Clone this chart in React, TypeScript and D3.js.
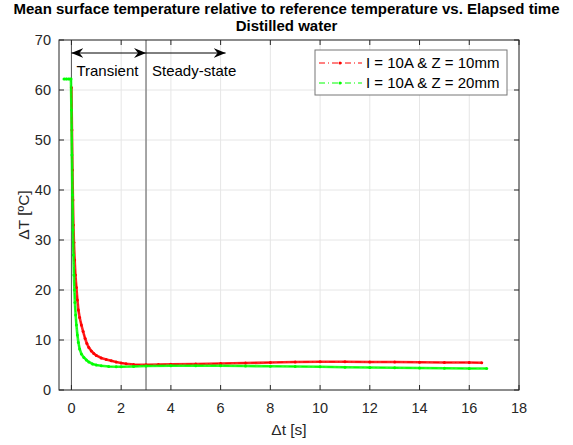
import React, { useEffect, useRef } from 'react';
import * as d3 from 'd3';

// elapsed time [s] and mean surface temperature delta [ºC]
const tRed = [0, 0.02, 0.04, 0.06, 0.08, 0.1, 0.13, 0.16, 0.2, 0.24, 0.28, 0.33, 0.4, 0.47, 0.55, 0.62, 0.7, 0.8, 0.9, 1.0, 1.2, 1.4, 1.6, 1.8, 2.0, 2.2, 2.5, 3.0, 3.5, 4.0, 5.0, 6.0, 7.0, 8.0, 9.0, 10.0, 11.0, 12.0, 13.0, 14.0, 15.0, 16.0, 16.5];
const vRed = [60.5, 52, 44, 38, 33, 29.5, 26, 23, 20.5, 18, 16, 14.5, 13, 11.7, 10.3, 9.3, 8.5, 7.8, 7.3, 6.9, 6.4, 6.1, 5.85, 5.6, 5.4, 5.25, 5.1, 5.05, 5.1, 5.15, 5.2, 5.3, 5.4, 5.5, 5.6, 5.65, 5.65, 5.6, 5.6, 5.55, 5.5, 5.5, 5.45];

const tGreen = [-0.3, -0.2, -0.1, -0.02, 0, 0.02, 0.04, 0.06, 0.08, 0.1, 0.12, 0.14, 0.17, 0.2, 0.24, 0.28, 0.33, 0.4, 0.5, 0.6, 0.7, 0.85, 1.0, 1.2, 1.5, 1.8, 2.0, 2.5, 3.0, 4.0, 5.0, 6.0, 7.0, 8.0, 9.0, 10.0, 11.0, 12.0, 13.0, 14.0, 15.0, 16.0, 16.7];
const vGreen = [62.2, 62.2, 62.2, 62.2, 56, 47, 39, 32, 27, 23, 20, 17.5, 15, 13, 11, 9.5, 8.2, 7.2, 6.5, 6.0, 5.6, 5.2, 5.0, 4.85, 4.7, 4.65, 4.65, 4.7, 4.8, 4.85, 4.85, 4.85, 4.8, 4.75, 4.7, 4.65, 4.55, 4.5, 4.45, 4.4, 4.35, 4.3, 4.3];

const seriesNames = ['I = 10A & Z = 10mm', 'I = 10A & Z = 20mm'];
const seriesColors = ['#ff0000', '#00ff00'];

const xTicks = [0, 2, 4, 6, 8, 10, 12, 14, 16, 18];
const yTicks = [0, 10, 20, 30, 40, 50, 60, 70];

export default function App() {
  const svgRef = useRef(null);

  useEffect(() => {
    const width = 573, height = 445;
    const m = { left: 59, right: 54, top: 40, bottom: 55 };
    const font = 'Liberation Sans, Arial, Helvetica, sans-serif';

    const svg = d3.select(svgRef.current);
    svg.selectAll('*').remove();
    svg.attr('width', width).attr('height', height).style('font-family', font);

    svg.append('rect').attr('width', width).attr('height', height).attr('fill', '#fff');

    const x = d3.scaleLinear().domain([-0.5, 18]).range([m.left, width - m.right]);
    const y = d3.scaleLinear().domain([0, 70]).range([height - m.bottom, m.top]);

    // grid
    const grid = svg.append('g').attr('stroke', '#e6e6e6').attr('stroke-width', 1);
    xTicks.forEach(t => grid.append('line').attr('x1', x(t)).attr('x2', x(t)).attr('y1', y(0)).attr('y2', y(70)));
    yTicks.forEach(t => grid.append('line').attr('x1', x(-0.5)).attr('x2', x(18)).attr('y1', y(t)).attr('y2', y(t)));

    // phase boundaries
    svg.append('line').attr('x1', x(0)).attr('x2', x(0)).attr('y1', y(0)).attr('y2', y(70))
      .attr('stroke', '#555').attr('stroke-width', 1);
    svg.append('line').attr('x1', x(3)).attr('x2', x(3)).attr('y1', y(0)).attr('y2', y(70))
      .attr('stroke', '#888').attr('stroke-width', 1.5);

    // series
    const line = d3.line<[number, number]>().x(d => x(d[0])).y(d => y(d[1]));
    const data = [
      d3.zip(tRed, vRed) as [number, number][],
      d3.zip(tGreen, vGreen) as [number, number][],
    ];
    data.forEach((pts, i) => {
      const g = svg.append('g');
      g.append('path').attr('d', line(pts)).attr('fill', 'none')
        .attr('stroke', seriesColors[i]).attr('stroke-width', 2.6).attr('stroke-opacity', 0.85);
      g.append('path').attr('d', line(pts)).attr('fill', 'none')
        .attr('stroke', seriesColors[i]).attr('stroke-width', 1).attr('stroke-dasharray', '6,3,1,3');
      g.selectAll('circle').data(pts).join('circle')
        .attr('cx', d => x(d[0])).attr('cy', d => y(d[1])).attr('r', 1.5).attr('fill', seriesColors[i]);
    });

    // axes box with inward ticks
    const ax = svg.append('g').attr('stroke', '#262626').attr('stroke-width', 1);
    ax.append('rect').attr('x', x(-0.5)).attr('y', y(70)).attr('width', x(18) - x(-0.5)).attr('height', y(0) - y(70))
      .attr('fill', 'none');
    xTicks.forEach(t => {
      ax.append('line').attr('x1', x(t)).attr('x2', x(t)).attr('y1', y(0)).attr('y2', y(0) - 5);
      ax.append('line').attr('x1', x(t)).attr('x2', x(t)).attr('y1', y(70)).attr('y2', y(70) + 5);
    });
    yTicks.forEach(t => {
      ax.append('line').attr('x1', x(-0.5)).attr('x2', x(-0.5) + 5).attr('y1', y(t)).attr('y2', y(t));
      ax.append('line').attr('x1', x(18)).attr('x2', x(18) - 5).attr('y1', y(t)).attr('y2', y(t));
    });

    const labels = svg.append('g').attr('fill', '#262626').style('font-size', '14.5px');
    xTicks.forEach(t => labels.append('text').attr('x', x(t)).attr('y', y(0) + 23)
      .attr('text-anchor', 'middle').text(t));
    yTicks.forEach(t => labels.append('text').attr('x', x(-0.5) - 8).attr('y', y(t) + 5)
      .attr('text-anchor', 'end').text(t));

    svg.append('text').attr('x', (x(-0.5) + x(18)) / 2).attr('y', 435).attr('text-anchor', 'middle')
      .attr('fill', '#262626').style('font-size', '15.5px').text('Δt [s]');
    svg.append('text').attr('transform', `translate(29,${(y(0) + y(70)) / 2}) rotate(-90)`)
      .attr('text-anchor', 'middle').attr('fill', '#262626').style('font-size', '15.5px').text('ΔT [ºC]');

    // title
    svg.append('text').attr('x', width / 2).attr('y', 14).attr('text-anchor', 'middle')
      .style('font-size', '15px').style('font-weight', 'bold').attr('fill', '#000')
      .text('Mean surface temperature relative to reference temperature vs. Elapsed time');
    svg.append('text').attr('x', width / 2).attr('y', 31).attr('text-anchor', 'middle')
      .style('font-size', '15px').style('font-weight', 'bold').attr('fill', '#000')
      .text('Distilled water');

    // arrows
    const defs = svg.append('defs');
    defs.append('marker').attr('id', 'ahead').attr('viewBox', '0 0 12 10').attr('refX', 12).attr('refY', 5)
      .attr('markerWidth', 12).attr('markerHeight', 10).attr('markerUnits', 'userSpaceOnUse').attr('orient', 'auto-start-reverse')
      .append('path').attr('d', 'M0,0 L12,5 L0,10 L4,5 Z').attr('fill', '#000');
    const ay = 53;
    svg.append('line').attr('x1', x(0)).attr('x2', x(3)).attr('y1', ay).attr('y2', ay)
      .attr('stroke', '#000').attr('stroke-width', 1)
      .attr('marker-start', 'url(#ahead)').attr('marker-end', 'url(#ahead)');
    svg.append('line').attr('x1', x(3)).attr('x2', x(6.2)).attr('y1', ay).attr('y2', ay)
      .attr('stroke', '#000').attr('stroke-width', 1).attr('marker-end', 'url(#ahead)');
    svg.append('text').attr('x', x(0) + 5).attr('y', 76).style('font-size', '15px').attr('fill', '#000').text('Transient');
    svg.append('text').attr('x', x(3) + 6).attr('y', 76).style('font-size', '15px').attr('fill', '#000').text('Steady-state');

    // legend
    const lg = svg.append('g').attr('transform', 'translate(315,50)');
    lg.append('rect').attr('width', 192).attr('height', 45).attr('fill', '#fff').attr('stroke', '#777');
    seriesNames.forEach((name, i) => {
      const ly = 13 + i * 20;
      lg.append('line').attr('x1', 4).attr('x2', 47).attr('y1', ly).attr('y2', ly)
        .attr('stroke', seriesColors[i]).attr('stroke-width', 1).attr('stroke-dasharray', '6,3,1,3');
      lg.append('circle').attr('cx', 25).attr('cy', ly).attr('r', 1.5).attr('fill', seriesColors[i]);
      lg.append('text').attr('x', 51).attr('y', ly + 5).style('font-size', '15px').attr('fill', '#000').text(name);
    });
  }, []);

  return <svg ref={svgRef} style={{ position: 'absolute', left: 0, top: 0 }} />;
}
